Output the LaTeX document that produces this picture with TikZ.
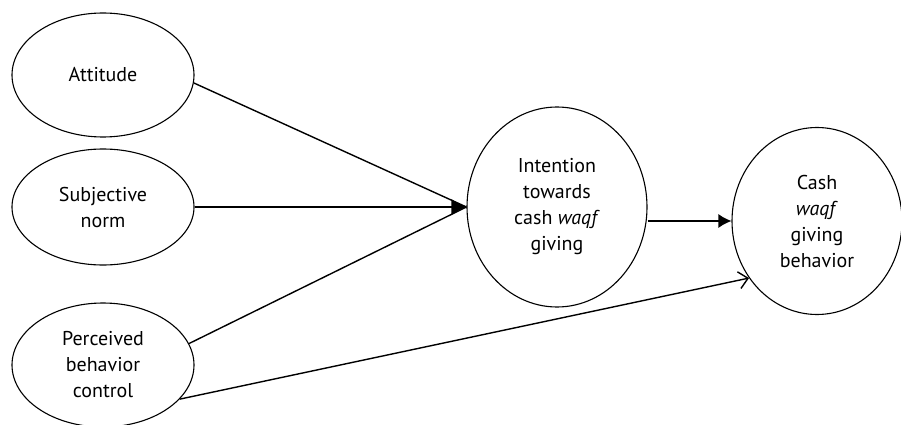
\documentclass[tikz,border=0pt]{standalone}
\usepackage{fontspec}
\setmainfont{PT Sans}
\usetikzlibrary{arrows.meta,shapes.geometric,positioning}

\begin{document}
\begin{tikzpicture}[x=1pt,y=-1pt,
  construct/.style={ellipse,draw,line width=1.1pt,inner sep=0pt,align=center,
    font=\fontsize{20}{26}\selectfont},
  edge/.style={line width=1.4pt},
  bigtip/.style={edge,-{Latex[length=15pt,width=16pt]}},
  filltip/.style={edge,-{Latex[length=13pt,width=14pt]}},
  opentip/.style={edge,-{Straight Barb[length=9pt,width=17pt]}}]
\useasboundingbox (0,0) rectangle (901,425);
\fill[white] (0,0) rectangle (901,425);

\node (att)[construct,minimum width=182pt,minimum height=124pt] at (103,75) {Attitude};
\node (sn)[construct,minimum width=182pt,minimum height=116pt] at (103,207) {Subjective\\norm};
\node (pbc)[construct,minimum width=182pt,minimum height=124pt] at (103,365) {Perceived\\behavior\\control};
\node (int)[construct,minimum width=180pt,minimum height=200pt] at (557,207) {Intention\\towards\\cash \emph{waqf}\\giving};
\node (beh)[construct,minimum width=170pt,minimum height=187pt] at (817,221) {Cash\\\emph{waqf}\\giving\\behavior};

\draw [edge] (att.-5) -- (int.west);
\draw [edge] (pbc.14) -- (int.west);
\draw [bigtip] (sn.east) -- (int.west);
\draw [filltip] (int.east |- beh.west) -- (beh.west);
\draw [opentip] (pbc.-24) -- (beh.220);
\end{tikzpicture}
\end{document}
